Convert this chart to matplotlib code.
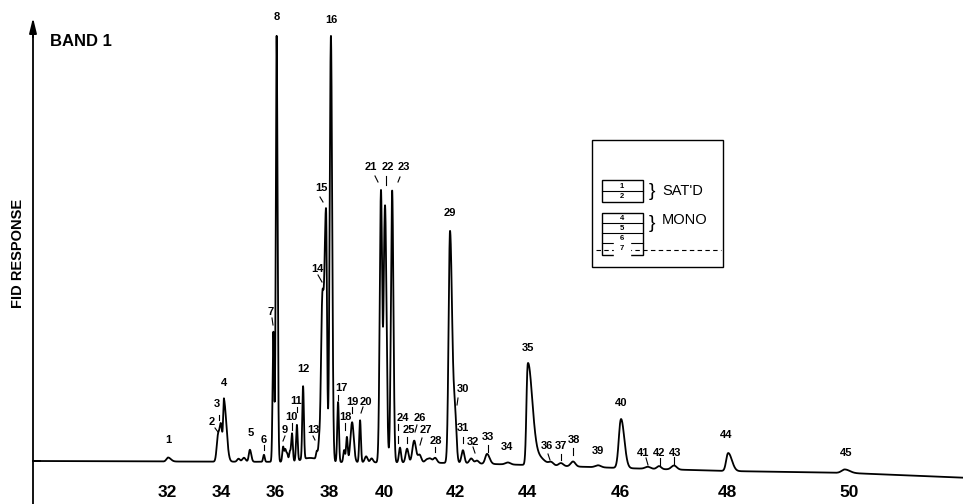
import numpy as np
import matplotlib.pyplot as plt
from matplotlib.patches import Rectangle

plt.rcParams['font.family'] = ['Liberation Sans', 'DejaVu Sans']

# retention axis, read from the tick labels (chart scale is not linear)
tick_vals = [32, 34, 36, 38, 40, 42, 44, 46, 48, 50]
tick_px = [167, 221, 275, 329, 384, 455, 527, 620, 727, 849]

# peaks: retention, height, left width, right width
peak_rt = [32.04, 33.89, 34.00, 34.11, 34.65, 34.85, 35.07, 35.59, 35.94, 36.06,
           36.30, 36.38, 36.45, 36.55, 36.63, 36.81, 37.04, 37.30, 37.55, 37.63,
           37.75, 37.89, 38.07, 38.33, 38.55, 38.65, 38.84, 39.13, 39.35, 39.55,
           39.89, 40.03, 40.23, 40.45, 40.65, 40.85, 41.00, 41.20, 41.30, 41.44,
           41.86, 42.00, 42.22, 42.45, 42.61, 42.89, 43.47, 44.02, 44.20, 44.52,
           44.73, 44.99, 45.53, 46.02, 46.52, 46.73, 47.01, 48.02, 49.93]
peak_h = [4, 25, 36, 60, 3, 4, 12, 7, 130, 426,
          15, 12, 8, 10, 28, 36, 73, 4, 8, 14,
          150, 250, 426, 60, 12, 25, 40, 42, 6, 4,
          272, 255, 272, 15, 14, 22, 8, 3, 4, 5,
          232, 45, 13, 5, 3, 10, 2, 100, 10, 3,
          3, 5, 2, 49, 2, 3, 4, 18, 3.5]
peak_wl = [0.06, 0.05, 0.05, 0.03, 0.05, 0.06, 0.04, 0.03, 0.03, 0.03,
           0.03, 0.03, 0.03, 0.03, 0.03, 0.03, 0.03, 0.30, 0.03, 0.03,
           0.05, 0.06, 0.045, 0.03, 0.03, 0.03, 0.06, 0.03, 0.05, 0.05,
           0.045, 0.04, 0.035, 0.03, 0.04, 0.05, 0.05, 0.05, 0.05, 0.05,
           0.04, 0.04, 0.04, 0.05, 0.05, 0.05, 0.07, 0.035, 0.10, 0.05,
           0.05, 0.05, 0.06, 0.045, 0.05, 0.04, 0.05, 0.035, 0.05]
peak_wr = [0.10, 0.05, 0.05, 0.09, 0.05, 0.06, 0.05, 0.03, 0.03, 0.035,
           0.03, 0.03, 0.03, 0.03, 0.03, 0.03, 0.03, 0.30, 0.03, 0.03,
           0.05, 0.035, 0.045, 0.03, 0.03, 0.03, 0.06, 0.03, 0.05, 0.05,
           0.045, 0.04, 0.035, 0.03, 0.04, 0.05, 0.05, 0.05, 0.05, 0.05,
           0.06, 0.04, 0.04, 0.05, 0.05, 0.07, 0.07, 0.09, 0.15, 0.05,
           0.05, 0.05, 0.06, 0.06, 0.05, 0.04, 0.05, 0.06, 0.08]

# baseline drift
drift_rt = [27, 32, 38, 42, 44, 46, 48, 50, 52]
drift_y = [0, -0.5, -1, -2, -4, -7, -10, -12, -17]

# peak numbers and where they sit
label_txt = [str(i) for i in range(1, 46)]
label_xy = [(168, 440), (212, 422), (217, 404), (224, 383), (251, 433), (264, 440),
            (271, 312), (277, 17), (285, 430), (291, 417), (296, 401), (303, 369),
            (313, 430), (317, 269), (321, 188), (331, 20), (341, 388), (345, 417),
            (352, 402), (366, 402), (371, 167), (388, 167), (404, 167), (403, 418),
            (409, 430), (420, 418), (426, 430), (436, 441), (450, 213), (463, 389),
            (463, 428), (473, 442), (488, 437), (507, 447), (528, 348), (547, 446),
            (561, 446), (574, 440), (598, 451), (621, 403), (643, 453), (659, 453),
            (675, 453), (726, 435), (846, 453)]
leaders = [(215, 428, 218, 432), (219, 415, 219, 420), (264, 445, 264, 450),
           (272, 318, 273, 325), (285, 436, 283, 441), (292, 423, 292, 430),
           (297, 407, 297, 412), (313, 436, 315, 440), (318, 275, 322, 282),
           (320, 197, 323, 202), (338, 395, 338, 400), (345, 423, 345, 430),
           (352, 407, 352, 413), (363, 407, 361, 413), (375, 176, 378, 182),
           (386, 176, 386, 185), (400, 177, 398, 182), (398, 424, 398, 430),
           (398, 436, 398, 443), (407, 437, 407, 443), (417, 425, 415, 432),
           (422, 438, 420, 445), (435, 447, 435, 452), (458, 398, 457, 405),
           (463, 437, 463, 443), (473, 447, 475, 453), (488, 445, 488, 452),
           (548, 454, 550, 460), (561, 454, 561, 460), (573, 448, 573, 455),
           (646, 458, 648, 465), (660, 458, 660, 465), (674, 457, 674, 464)]


def fwd(v):
    v = np.asarray(v, dtype=float)
    p = np.interp(v, tick_vals, tick_px)
    p = np.where(v < tick_vals[0], tick_px[0] + (v - tick_vals[0]) * 27.0, p)
    p = np.where(v > tick_vals[-1], tick_px[-1] + (v - tick_vals[-1]) * 61.0, p)
    return p


def inv(p):
    p = np.asarray(p, dtype=float)
    v = np.interp(p, tick_px, tick_vals)
    v = np.where(p < tick_px[0], tick_vals[0] + (p - tick_px[0]) / 27.0, v)
    v = np.where(p > tick_px[-1], tick_vals[-1] + (p - tick_px[-1]) / 61.0, v)
    return v


t = np.linspace(float(inv(34)), float(inv(963)), 40000)
y = np.interp(t, drift_rt, drift_y)
for rt, h, wl, wr in zip(peak_rt, peak_h, peak_wl, peak_wr):
    w = np.where(t < rt, wl, wr)
    y = y + h * np.exp(-0.5 * ((t - rt) / w) ** 2)

fig = plt.figure(figsize=(9.63, 5.04), dpi=100)
ax = fig.add_axes([0, 22 / 504, 1, 482 / 504])
ax.set_xscale('function', functions=(fwd, inv))
ax.set_xlim(float(inv(0)), float(inv(963)))
ax.set_ylim(-21, 461)
ax.plot(t, y, color='black', lw=1.3)
for s in ax.spines.values():
    s.set_visible(False)
ax.set_yticks([])
ax.set_xticks(tick_vals)
ax.set_xticklabels([str(v) for v in tick_vals], fontsize=12.5, fontweight='bold')
ax.tick_params(axis='x', length=0, pad=2)

# overlay in pixel units for the annotations
ov = fig.add_axes([0, 0, 1, 1])
ov.set_xlim(0, 963)
ov.set_ylim(504, 0)
ov.axis('off')
ov.patch.set_visible(False)

ov.plot([33, 33], [30, 504], color='black', lw=1.3)
ov.annotate('', xy=(33, 15), xytext=(33, 40),
            arrowprops=dict(arrowstyle='-|>,head_length=0.9,head_width=0.22',
                            color='black', lw=1.3))
ov.plot([33, 40], [461, 461], color='black', lw=1.3)
ov.text(50, 42, 'BAND 1', fontsize=12, fontweight='bold', va='center', ha='left')
ov.text(18, 253, 'FID RESPONSE', fontsize=10.5, fontweight='bold', rotation=90,
        va='center', ha='center')

for txt, (lx, ly) in zip(label_txt, label_xy):
    ov.text(lx, ly, txt, fontsize=8, fontweight='bold', ha='center', va='center')
for x0, y0, x1, y1 in leaders:
    ov.plot([x0, x1], [y0, y1], color='black', lw=0.8)

# legend box
ov.add_patch(Rectangle((592, 140), 131, 127, fill=False, lw=1.0, ec='black'))
ov.add_patch(Rectangle((602, 180), 41, 22, fill=False, lw=1.0, ec='black'))
ov.plot([602, 643], [191, 191], color='black', lw=0.8)
ov.add_patch(Rectangle((602, 213), 41, 42, fill=False, lw=1.0, ec='black'))
for yy in (223, 233, 243):
    ov.plot([602, 643], [yy, yy], color='black', lw=0.8)
ov.plot([596, 721], [250, 250], color='black', lw=0.8, ls=(0, (4, 3)))
for txt, yy in zip(['1', '2', '4', '5', '6', '7'], [186, 197, 218, 228, 238, 249]):
    ov.text(622, yy, txt, fontsize=5.5, fontweight='bold', ha='center', va='center',
            backgroundcolor='white' if txt == '7' else 'none')
ov.text(652, 191, '}', fontsize=14, ha='center', va='center')
ov.text(652, 223, '}', fontsize=14, ha='center', va='center')
ov.text(662, 191, "SAT'D", fontsize=10.5, ha='left', va='center')
ov.text(662, 220, 'MONO', fontsize=10.5, ha='left', va='center')

fig.savefig('out.png', dpi=100)
